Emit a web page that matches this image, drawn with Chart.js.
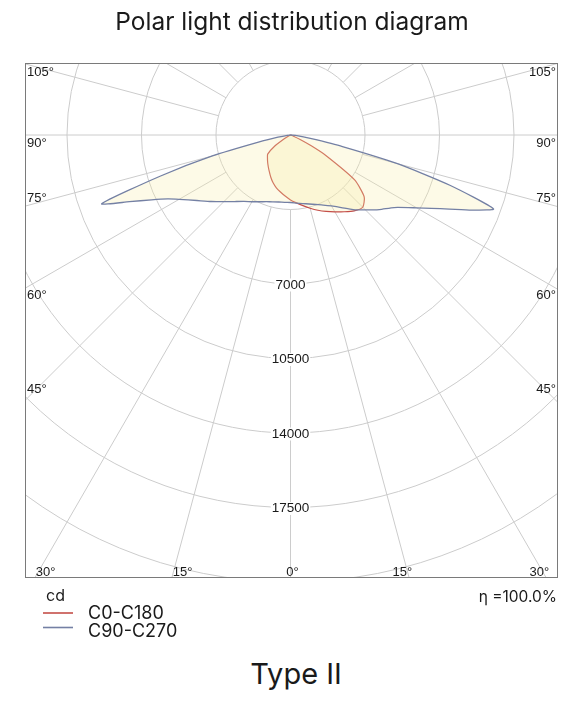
<!DOCTYPE html>
<html>
<head>
<meta charset="utf-8">
<script src="https://cdn.jsdelivr.net/npm/chart.js@4.4.1/dist/chart.umd.min.js"></script>
<style>
    body { margin: 0; background: #fff; width: 584px; height: 716px; position: relative; overflow: hidden; }
    #wrap { position: absolute; left: 0; top: 0; width: 584px; height: 637px; }
    #title { position: absolute; top: 6px; left: 0; width: 584px; text-align: center; font: 400 24.5px Inter, sans-serif; color: #1a1a1a; }
    #type { position: absolute; top: 656px; left: 4px; width: 584px; text-align: center; font: 400 29px Inter, sans-serif; color: #1a1a1a; }
</style>
</head>
<body>
<div id="wrap"><canvas id="polarChart" width="584" height="637"></canvas></div>
<div id="title">Polar light distribution diagram</div>
<div id="type">Type II</div>
<script>
// gamma angles (deg from nadir) and intensities in cd
const gammaAngles = [0, 5, 10, 15, 20, 25, 30, 35, 40, 45, 50, 55, 60, 62.5, 65, 67.5, 70, 72.5, 75, 77.5, 80, 85, 90];
const c0Values = [3050, 3200, 3370, 3560, 3760, 3960, 4170, 4400, 4650, 4800, 4520, 3680, 1900, 1100, 500, 150, 0, 0, 0, 0, 0, 0, 0];
const c180Values = [3050, 2880, 2720, 2570, 2390, 2190, 1990, 1820, 1670, 1530, 1400, 900, 300, 100, 0, 0, 0, 0, 0, 0, 0, 0, 0];
const c90Values = [3180, 3210, 3270, 3355, 3475, 3630, 3850, 4160, 4570, 4980, 5450, 5940, 6840, 7460, 8230, 9210, 10150, 7850, 5200, 2500, 1000, 300, 0];
const c270Values = [3170, 3175, 3195, 3250, 3335, 3460, 3620, 3810, 4080, 4430, 4860, 5365, 6040, 6500, 7200, 8190, 9440, 6400, 3800, 1500, 600, 150, 0];

const ringValues = [3500, 7000, 10500, 14000, 17500, 21000];
const ringLabels = [7000, 10500, 14000, 17500];
const sideAngles = [105, 90, 75, 60, 45];
const bottomAngles = [-30, -15, 0, 15, 30];
const seriesNames = ["C0-C180", "C90-C270"];
const efficiency = "η =100.0%";

const redLine = "#c44e48";
const blueLine = "#7480a4";

// left half runs 90..0 on the left, right half 0..90 on the right
function toPoints(leftVals, rightVals) {
    let pts = [];
    for (let i = gammaAngles.length - 1; i >= 0; i--) {
        const a = gammaAngles[i] * Math.PI / 180;
        pts.push({ x: -leftVals[i] * Math.sin(a), y: leftVals[i] * Math.cos(a) });
    }
    for (let i = 1; i < gammaAngles.length; i++) {
        const a = gammaAngles[i] * Math.PI / 180;
        pts.push({ x: rightVals[i] * Math.sin(a), y: rightVals[i] * Math.cos(a) });
    }
    return pts;
}

function px(chart, r, deg) {
    const a = deg * Math.PI / 180;
    return [chart.scales.x.getPixelForValue(r * Math.sin(a)), chart.scales.y.getPixelForValue(r * Math.cos(a))];
}

const polarGrid = {
    id: "polarGrid",
    beforeDatasetsDraw(chart) {
        const { ctx, chartArea: area, scales: { x, y } } = chart;
        const cx = x.getPixelForValue(0);
        const cy = y.getPixelForValue(0);
        ctx.save();
        ctx.beginPath();
        ctx.rect(area.left, area.top, area.right - area.left, area.bottom - area.top);
        ctx.clip();
        ctx.strokeStyle = "#cccccc";
        ctx.lineWidth = 1;
        ringValues.forEach((v) => {
            const r = x.getPixelForValue(v) - cx;
            ctx.beginPath();
            ctx.arc(cx, cy, r, 0, Math.PI * 2);
            ctx.stroke();
        });
        for (let a = 0; a < 360; a += 15) {
            const start = (a === 90 || a === 270) ? 0 : ringValues[0];
            const p0 = px(chart, start, a);
            const p1 = px(chart, 40000, a);
            ctx.beginPath();
            ctx.moveTo(p0[0], p0[1]);
            ctx.lineTo(p1[0], p1[1]);
            ctx.stroke();
        }
        ctx.restore();
    },
    afterDatasetsDraw(chart) {
        const { ctx, chartArea: area, scales: { x, y } } = chart;
        const cx = x.getPixelForValue(0);
        const cy = y.getPixelForValue(0);
        ctx.save();

        // ring value labels on the nadir line
        ctx.font = "13.5px 'Liberation Sans', Arial, sans-serif";
        ctx.textAlign = "center";
        ctx.textBaseline = "middle";
        ringLabels.forEach((v) => {
            const ly = y.getPixelForValue(v) + 1;
            const w = ctx.measureText(String(v)).width;
            ctx.fillStyle = "#fff";
            ctx.fillRect(cx - w / 2 - 1, ly - 6.5, w + 2, 13);
            ctx.fillStyle = "#1a1a1a";
            ctx.fillText(String(v), cx, ly);
        });

        // frame
        ctx.strokeStyle = "#7a7a7a";
        ctx.lineWidth = 1;
        ctx.strokeRect(area.left + 0.5, area.top + 0.5, area.right - area.left - 1, area.bottom - area.top - 1);

        // angle labels on the sides
        ctx.font = "13px 'Liberation Sans', Arial, sans-serif";
        const nudge = { 105: 9, 90: 8, 75: -8, 60: 7, 45: -11 };
        const half = cx - area.left;
        ctx.fillStyle = "#1a1a1a";
        sideAngles.forEach((deg) => {
            const a = deg * Math.PI / 180;
            const ly = cy + half * Math.cos(a) / Math.sin(a) + nudge[deg];
            ctx.textAlign = "left";
            ctx.fillText(deg + "°", area.left + 2, ly);
            ctx.textAlign = "right";
            ctx.fillText(deg + "°", area.right - 2, ly);
        });

        // angle labels along the bottom
        const depth = area.bottom - cy;
        bottomAngles.forEach((deg) => {
            const bx = cx + depth * Math.tan(deg * Math.PI / 180);
            const txt = Math.abs(deg) + "°";
            if (deg < 0) {
                ctx.textAlign = "left";
                ctx.fillText(txt, Math.max(bx + 1, area.left + 7), area.bottom - 6);
            } else if (deg > 0) {
                ctx.textAlign = "right";
                ctx.fillText(txt, Math.min(bx + 3, area.right - 2), area.bottom - 6);
            } else {
                ctx.textAlign = "center";
                ctx.fillText(txt, bx + 2, area.bottom - 6);
            }
        });

        // legend block
        ctx.fillStyle = "#1a1a1a";
        ctx.font = "16px Inter, sans-serif";
        ctx.textAlign = "left";
        ctx.fillText("cd", 46, 596);
        ctx.textAlign = "right";
        ctx.font = "15.5px Inter, sans-serif";
        ctx.fillText(efficiency, area.right - 1, 597);
        const colors = [redLine, blueLine];
        ctx.textAlign = "left";
        ctx.font = "18px Inter, sans-serif";
        seriesNames.forEach((name, i) => {
            const ly = 613 + i * 14.5;
            ctx.strokeStyle = colors[i];
            ctx.lineWidth = 1.6;
            ctx.beginPath();
            ctx.moveTo(43, ly);
            ctx.lineTo(73, ly);
            ctx.stroke();
            ctx.fillStyle = "#1a1a1a";
            ctx.fillText(name, 88, 613.5 + i * 18.5);
        });
        ctx.restore();
    },
};

const ctx = document.getElementById("polarChart");

new Chart(ctx, {
    type: "scatter",
    data: {
        datasets: [
            {
                label: seriesNames[1],
                data: toPoints(c270Values, c90Values),
                showLine: true,
                borderColor: blueLine,
                borderWidth: 1.3,
                backgroundColor: "rgba(248, 238, 170, 0.28)",
                fill: "shape",
                pointRadius: 0,
                tension: 0.2,
            },
            {
                label: seriesNames[0],
                data: toPoints(c180Values, c0Values),
                showLine: true,
                borderColor: redLine,
                borderWidth: 1.2,
                backgroundColor: "rgba(248, 238, 170, 0.28)",
                fill: "shape",
                pointRadius: 0,
                tension: 0.2,
            },
        ],
    },
    options: {
        responsive: false,
        animation: false,
        layout: { padding: { left: 25, top: 63, right: 26, bottom: 59 } },
        scales: {
            x: { type: "linear", display: false, min: -12473, max: 12567 },
            y: { type: "linear", display: false, reverse: true, min: -3383, max: 20812 },
        },
        plugins: {
            legend: { display: false },
            tooltip: { enabled: false },
        },
    },
    plugins: [polarGrid],
});
</script>
</body>
</html>
